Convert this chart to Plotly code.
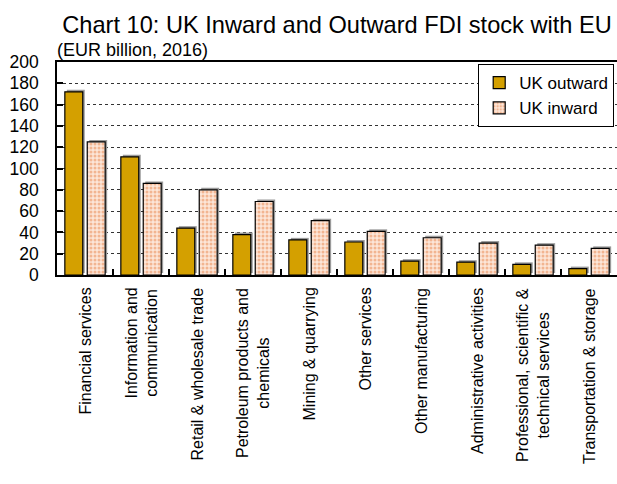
import plotly.graph_objects as go

# UK FDI stock with the EU by sector, EUR billion, 2016
sectors = [
    "Financial services",
    "Information and<br>communication",
    "Retail & wholesale trade",
    "Petroleum products and<br>chemicals",
    "Mining & quarrying",
    "Other services",
    "Other manufacturing",
    "Administrative activities",
    "Professional, scientific &<br>technical services",
    "Transportation & storage",
]
uk_outward = [172, 111, 44, 38, 33, 31, 13, 12, 10, 6]
uk_inward = [125, 86, 80, 69, 51, 41, 35, 30, 28, 25]
y_ticks = list(range(0, 201, 20))

FONT = "Liberation Sans, Arial, sans-serif"
OUT_COLOR = "#D4A000"
IN_FG = "#E8844A"
IN_BG = "#FCE6D8"
SHADOW = "#9A9A9A"

n = len(sectors)
y_lo, y_hi = 0, 200

# bar geometry within each category slot (category width = 1)
group_gap = 0.2
inner_gap = 0.2
slot = (1 - group_gap) / 2
bar_w = slot * (1 - inner_gap)
off_out = -slot + slot * inner_gap / 2
off_in = slot * inner_gap / 2

# drop shadow nudged ~2px right and up
px_per_cat = 560 / n
px_per_unit = 213 / (y_hi - y_lo)
dx = 2 / px_per_cat
dy = 2 / px_per_unit

fig = go.Figure()

for vals, off in ((uk_outward, off_out), (uk_inward, off_in)):
    fig.add_trace(go.Bar(
        x=sectors, y=vals, base=dy, offset=off + dx, width=bar_w,
        marker=dict(color=SHADOW, line=dict(width=0)),
        showlegend=False, hoverinfo="skip",
    ))

fig.add_trace(go.Bar(
    name="UK outward", x=sectors, y=uk_outward, offset=off_out, width=bar_w,
    marker=dict(color=OUT_COLOR, line=dict(color="black", width=1.2)),
))
fig.add_trace(go.Bar(
    name="UK inward", x=sectors, y=uk_inward, offset=off_in, width=bar_w,
    marker=dict(
        color=IN_BG,
        line=dict(color="black", width=1.2),
        pattern=dict(shape=".", fgcolor=IN_FG, bgcolor=IN_BG, size=4, solidity=0.45),
    ),
))

# rotated category labels, lines centred on each other
cat_labels = [
    dict(text=s, x=s, xref="x", y=y_lo, yref="y", yshift=-11,
         xanchor="center", yanchor="top", textangle=-90, align="center",
         showarrow=False, font=dict(size=16, family=FONT, color="black"))
    for s in sectors
]

fig.update_layout(
    width=617, height=484,
    margin=dict(l=57, r=0, t=62, b=209),
    paper_bgcolor="white", plot_bgcolor="white",
    font=dict(family=FONT, color="black"),
    barmode="overlay",
    title=dict(
        text="Chart 10: UK Inward and Outward FDI stock with EU",
        font=dict(size=23.6, family=FONT, color="black"),
        x=0.5, xref="paper", xanchor="center", y=0.948, yanchor="middle",
    ),
    xaxis=dict(
        type="category", categoryorder="array", categoryarray=sectors,
        range=[-0.5, n - 0.5],
        showline=True, linecolor="black", linewidth=1.5, mirror=True,
        ticks="inside", tickson="boundaries", ticklen=6, tickcolor="black", tickwidth=1.5,
        showticklabels=False,
        showgrid=False, zeroline=False,
    ),
    yaxis=dict(
        range=[y_lo, y_hi], tickvals=y_ticks,
        showline=True, linecolor="black", linewidth=1.5,
        ticks="inside", ticklen=6, tickcolor="black", tickwidth=1.5,
        tickfont=dict(size=17.5, family=FONT, color="black"),
        ticklabelstandoff=13,
        showgrid=True, gridcolor="#333333", gridwidth=1, griddash="dot",
        zeroline=False,
    ),
    legend=dict(
        x=0.995, y=0.99, xanchor="right", yanchor="top",
        bgcolor="white", bordercolor="black", borderwidth=1,
        font=dict(size=17, family=FONT, color="black"),
        itemwidth=30, tracegroupgap=0,
    ),
    annotations=[dict(
        text="(EUR billion, 2016)", xref="paper", yref="paper",
        x=-0.004, y=1.0, xanchor="left", yanchor="bottom", showarrow=False,
        font=dict(size=18, family=FONT, color="black"),
    )] + cat_labels,
)

fig.write_html("out.html")
